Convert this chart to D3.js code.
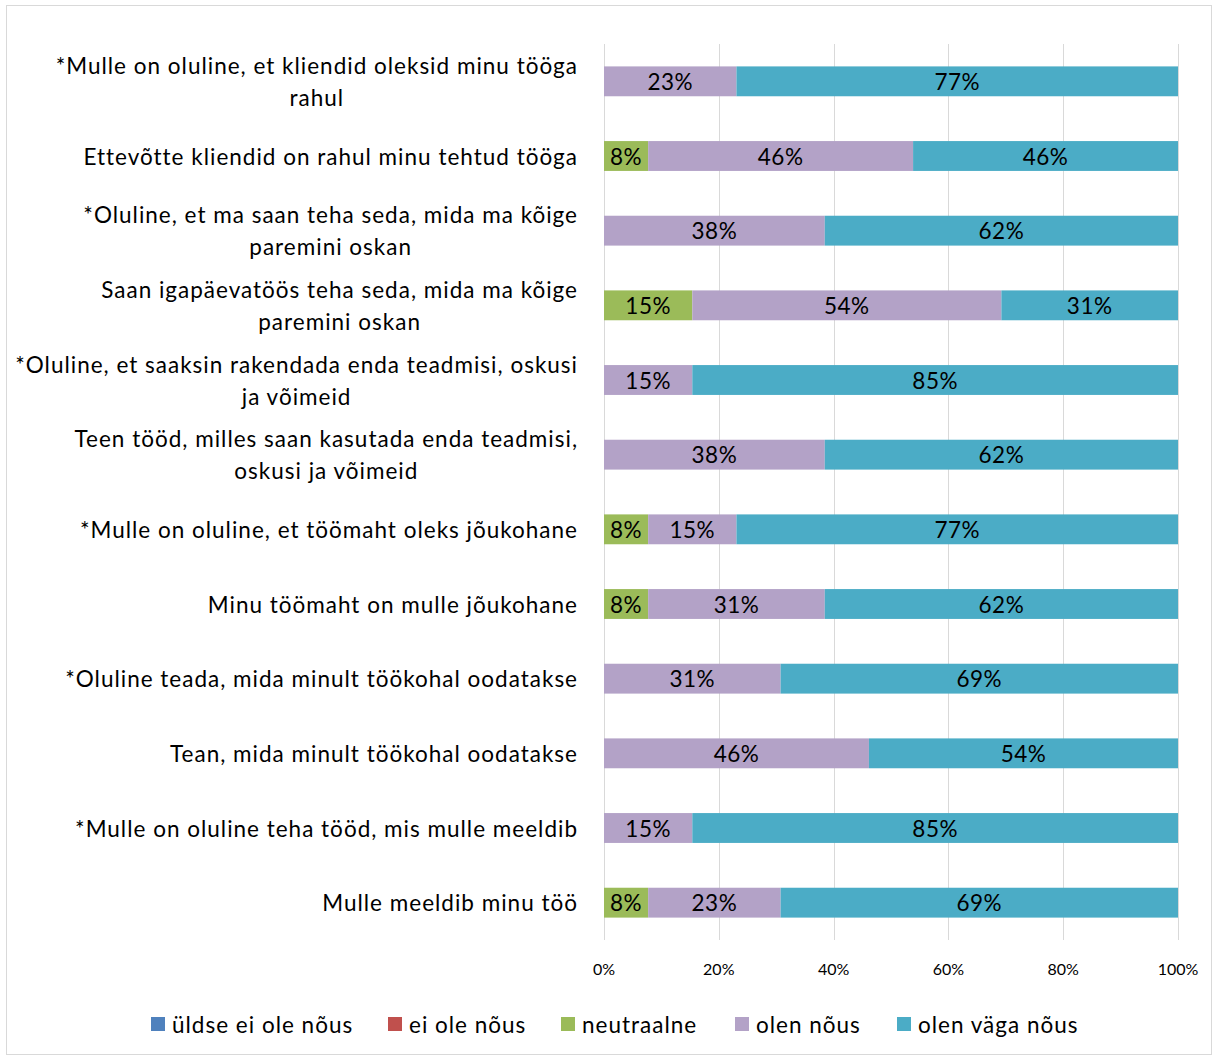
<!DOCTYPE html>
<html>
<head>
<meta charset="utf-8">
<script src="https://cdn.jsdelivr.net/npm/d3@7"></script>
<style>
  html, body { margin: 0; padding: 0; background: #fff; }
  svg { display: block; font-family: Lato, "Open Sans", sans-serif; }
</style>
</head>
<body>
<svg id="chart" width="1213" height="1057"></svg>
<script>
// Survey statements (line breaks mark the wrapped lines)
const categories = [
  "*Mulle on oluline, et kliendid oleksid minu tööga\nrahul",
  "Ettevõtte kliendid on rahul minu tehtud tööga",
  "*Oluline, et ma saan teha seda, mida ma kõige\nparemini oskan",
  "Saan igapäevatöös teha seda, mida ma kõige\nparemini oskan",
  "*Oluline, et saaksin rakendada enda teadmisi, oskusi\nja võimeid",
  "Teen tööd, milles saan kasutada enda teadmisi,\noskusi ja võimeid",
  "*Mulle on oluline, et töömaht oleks jõukohane",
  "Minu töömaht on mulle jõukohane",
  "*Oluline teada, mida minult töökohal oodatakse",
  "Tean, mida minult töökohal oodatakse",
  "*Mulle on oluline teha tööd, mis mulle meeldib",
  "Mulle meeldib minu töö"
];

// Answer options
const seriesNames = ["üldse ei ole nõus", "ei ole nõus", "neutraalne", "olen nõus", "olen väga nõus"];
const seriesColors = ["#4F81BD", "#C0504D", "#9BBB59", "#B3A2C7", "#4BACC6"];

// Number of respondents per answer option, one entry per statement
const uldseEiOleNous = [0, 0, 0, 0, 0, 0, 0, 0, 0, 0, 0, 0];
const eiOleNous      = [0, 0, 0, 0, 0, 0, 0, 0, 0, 0, 0, 0];
const neutraalne     = [0, 1, 0, 2, 0, 0, 1, 1, 0, 0, 0, 1];
const olenNous       = [3, 6, 5, 7, 2, 5, 2, 4, 4, 6, 2, 3];
const olenVagaNous   = [10, 6, 8, 4, 11, 8, 10, 8, 9, 7, 11, 9];

const xTicks = [0, 0.2, 0.4, 0.6, 0.8, 1];

const seriesValues = [uldseEiOleNous, eiOleNous, neutraalne, olenNous, olenVagaNous];
const rows = categories.map((c, i) => {
  const r = { category: c };
  seriesNames.forEach((s, j) => { r[s] = seriesValues[j][i]; });
  return r;
});

const svg = d3.select("#chart");
const W = 1213, H = 1057;
const textSize = 22.5;
const textSpacing = "1px";

// outer frame
svg.append("rect")
  .attr("x", 6.5).attr("y", 5.5)
  .attr("width", W - 8).attr("height", H - 8)
  .attr("fill", "#fff").attr("stroke", "#D9D9D9").attr("stroke-width", 1);

const plot = { left: 604, right: 1178, top: 44, bottom: 940 };

const x = d3.scaleLinear().domain([0, 1]).range([plot.left, plot.right]);
const y = d3.scaleBand().domain(categories).range([plot.top, plot.bottom])
  .paddingInner(0.6).paddingOuter(0.3);
const color = d3.scaleOrdinal().domain(seriesNames).range(seriesColors);

const stacked = d3.stack().keys(seriesNames).offset(d3.stackOffsetExpand)(rows);

// vertical gridlines
svg.append("g").selectAll("line").data(xTicks).join("line")
  .attr("x1", d => Math.round(x(d)) + 0.5).attr("x2", d => Math.round(x(d)) + 0.5)
  .attr("y1", plot.top).attr("y2", plot.bottom)
  .attr("stroke", "#D9D9D9").attr("stroke-width", 1);

// bars
const layers = svg.append("g").selectAll("g").data(stacked).join("g")
  .attr("fill", d => color(d.key));

layers.selectAll("rect").data(d => d).join("rect")
  .attr("x", d => x(d[0]))
  .attr("y", d => y(d.data.category))
  .attr("width", d => Math.max(0, x(d[1]) - x(d[0])))
  .attr("height", y.bandwidth());

// value labels
const fmt = v => Math.round(v * 100) + "%";
layers.selectAll("text").data(d => d.filter(p => p[1] - p[0] > 0)).join("text")
  .attr("x", d => (x(d[0]) + x(d[1])) / 2)
  .attr("y", d => y(d.data.category) + y.bandwidth() / 2)
  .attr("text-anchor", "middle")
  .attr("dominant-baseline", "central")
  .attr("fill", "#000")
  .attr("font-size", textSize)
  .attr("letter-spacing", "0.5px")
  .text(d => fmt(d[1] - d[0]));

// category labels: block right-aligned, lines centred within the block
const labelRight = 578;
const lineGap = 32;
const catG = svg.append("g");
categories.forEach(c => {
  const lines = c.split("\n");
  const cy = y(c) + y.bandwidth() / 2;
  const texts = lines.map((ln, i) => catG.append("text")
    .attr("y", cy + (i - (lines.length - 1) / 2) * lineGap)
    .attr("dominant-baseline", "central")
    .attr("font-size", textSize)
    .attr("letter-spacing", textSpacing)
    .attr("fill", "#000")
    .text(ln));
  const widths = texts.map(t => t.node().getComputedTextLength());
  const maxW = d3.max(widths);
  texts.forEach(t => {
    t.attr("text-anchor", "middle").attr("x", labelRight - maxW / 2);
  });
});

// x axis tick labels
svg.append("g").selectAll("text").data(xTicks).join("text")
  .attr("x", d => x(d))
  .attr("y", 968)
  .attr("text-anchor", "middle")
  .attr("dominant-baseline", "central")
  .attr("font-size", 16)
  .attr("fill", "#000")
  .text(d3.format(".0%"));

// legend
const legendX = [151, 388, 561, 735, 897];
const legend = svg.append("g").selectAll("g").data(seriesNames).join("g")
  .attr("transform", (d, i) => `translate(${legendX[i]},1024)`);
legend.append("rect")
  .attr("x", 0).attr("y", -7).attr("width", 14).attr("height", 14)
  .attr("fill", d => color(d));
legend.append("text")
  .attr("x", 21).attr("y", 0)
  .attr("dominant-baseline", "central")
  .attr("font-size", textSize)
  .attr("letter-spacing", textSpacing)
  .attr("fill", "#000")
  .text(d => d);
</script>
</body>
</html>
